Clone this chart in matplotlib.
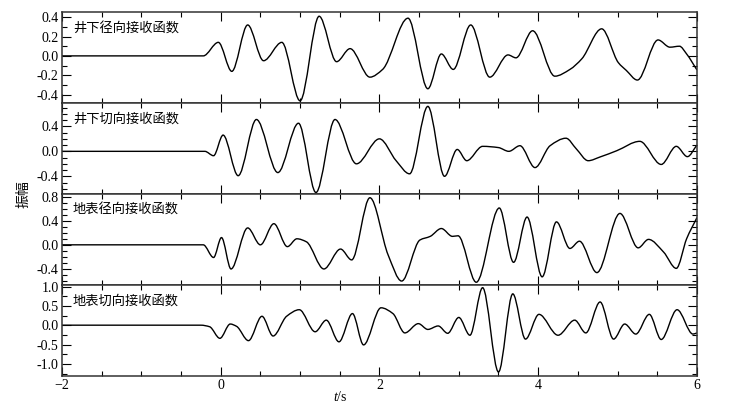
import numpy as np
import matplotlib
matplotlib.use('Agg')
from matplotlib import pyplot as plt
from matplotlib.path import Path
from matplotlib.patches import PathPatch
from matplotlib.ticker import MultipleLocator

plt.rcParams['font.family'] = ['Liberation Serif', 'DejaVu Serif']
plt.rcParams['mathtext.fontset'] = 'custom'
plt.rcParams['mathtext.it'] = 'Liberation Serif:italic'
plt.rcParams['mathtext.rm'] = 'Liberation Serif'

# picos e vales (tempo em s, amplitude)
t_rad_poco = [-2.0, -0.22, -0.03, 0.14, 0.34, 0.54, 0.77, 1.00, 1.24, 1.46, 1.63, 1.88, 2.04,
              2.36, 2.61, 2.78, 2.93, 3.15, 3.39, 3.62, 3.72, 3.93, 4.21, 4.40, 4.55, 4.80,
              5.01, 5.11, 5.25, 5.51, 5.66, 5.78, 5.87, 6.00]
a_rad_poco = [0.0, 0.0, 0.14, -0.16, 0.32, -0.05, 0.14, -0.465, 0.41, -0.06, 0.075, -0.22, -0.14,
              0.39, -0.34, 0.02, -0.14, 0.32, -0.22, 0.01, -0.02, 0.26, -0.21, -0.14, -0.03, 0.28,
              -0.07, -0.15, -0.25, 0.165, 0.09, 0.10, 0.02, -0.145]

t_tan_poco = [-2.0, -0.2, -0.09, 0.03, 0.22, 0.45, 0.72, 0.98, 1.20, 1.44, 1.71, 2.00, 2.21,
              2.38, 2.61, 2.82, 2.98, 3.10, 3.30, 3.50, 3.63, 3.77, 3.96, 4.15, 4.35, 4.48,
              4.63, 4.78, 4.99, 5.28, 5.55, 5.74, 5.88, 6.00]
a_tan_poco = [0.0, 0.0, -0.07, 0.26, -0.39, 0.51, -0.34, 0.45, -0.66, 0.51, -0.20, 0.20, -0.15,
              -0.36, 0.72, -0.40, 0.03, -0.15, 0.08, 0.06, 0.00, 0.09, -0.26, 0.09, 0.21, 0.04,
              -0.15, -0.09, 0.01, 0.16, -0.21, 0.08, -0.085, 0.10]

t_rad_sup = [-2.0, -0.22, -0.09, 0.01, 0.13, 0.34, 0.50, 0.67, 0.84, 0.96, 1.08, 1.30, 1.51,
             1.65, 1.88, 2.11, 2.28, 2.51, 2.64, 2.78, 2.92, 2.99, 3.22, 3.51, 3.69, 3.86,
             4.05, 4.23, 4.40, 4.52, 4.74, 5.03, 5.26, 5.39, 5.58, 5.74, 5.87, 6.00]
a_rad_sup = [0.0, 0.0, -0.21, 0.12, -0.40, 0.28, 0.00, 0.35, -0.03, 0.10, 0.05, -0.40, -0.07,
             -0.25, 0.78, -0.17, -0.60, 0.08, 0.14, 0.27, 0.14, 0.15, -0.62, 0.61, -0.29, 0.46,
             -0.53, 0.38, -0.06, 0.06, -0.46, 0.52, -0.05, 0.09, -0.12, -0.39, 0.10, 0.45]

t_tan_sup = [-2.0, -0.25, -0.14, -0.01, 0.12, 0.20, 0.35, 0.52, 0.66, 0.83, 0.99, 1.19, 1.33,
             1.49, 1.66, 1.80, 2.02, 2.17, 2.32, 2.49, 2.61, 2.74, 2.86, 3.00, 3.14, 3.30,
             3.50, 3.68, 3.84, 4.01, 4.25, 4.46, 4.60, 4.78, 4.95, 5.09, 5.23, 5.40, 5.55,
             5.75, 5.95, 6.00]
a_tan_sup = [0.0, 0.0, -0.04, -0.34, 0.03, -0.03, -0.40, 0.23, -0.28, 0.23, 0.40, -0.17, 0.13,
             -0.43, 0.30, -0.51, 0.45, 0.30, -0.20, 0.04, -0.11, -0.02, -0.21, 0.20, -0.26, 0.97,
             -1.21, 0.81, -0.36, 0.28, -0.26, 0.13, -0.20, 0.60, -0.36, 0.03, -0.23, 0.28, -0.37,
             0.40, -0.23, -0.20]

titulos = ['井下径向接收函数', '井下切向接收函数', '地表径向接收函数', '地表切向接收函数']
ylims = [(-0.49, 0.45), (-0.685, 0.77), (-0.665, 0.84), (-1.31, 1.04)]
ymaior = [0.2, 0.4, 0.4, 0.5]
ymenor = [0.1, 0.1, 0.1, 0.25]


def CurvaSuave(t, v):
    # curva de Bezier passando pelos pontos lidos (tangentes monotonicas)
    t = np.asarray(t, float)
    v = np.asarray(v, float)
    h = np.diff(t)
    d = np.diff(v) / h
    m = np.zeros_like(v)
    for i in range(1, len(v) - 1):
        if d[i - 1] * d[i] > 0:
            w1 = 2 * h[i] + h[i - 1]
            w2 = h[i] + 2 * h[i - 1]
            m[i] = (w1 + w2) / (w1 / d[i - 1] + w2 / d[i])
    m[-1] = d[-1]
    verts = [(t[0], v[0])]
    codes = [Path.MOVETO]
    for i in range(len(t) - 1):
        verts += [(t[i] + h[i] / 3, v[i] + m[i] * h[i] / 3),
                  (t[i + 1] - h[i] / 3, v[i + 1] - m[i + 1] * h[i] / 3),
                  (t[i + 1], v[i + 1])]
        codes += [Path.CURVE4] * 3
    return Path(verts, codes)


fig, axs = plt.subplots(4, 1, sharex=True, figsize=(7.29, 4.13), dpi=100)
fig.subplots_adjust(left=0.085, right=0.956, top=0.97, bottom=0.09, hspace=0)

series = [(t_rad_poco, a_rad_poco), (t_tan_poco, a_tan_poco),
          (t_rad_sup, a_rad_sup), (t_tan_sup, a_tan_sup)]

for i, ax in enumerate(axs):
    t, a = series[i]
    ax.add_patch(PathPatch(CurvaSuave(t, a), fill=False, lw=1.0, edgecolor='black'))
    ax.set_xlim(-2, 6)
    ax.set_ylim(*ylims[i])
    ax.xaxis.set_major_locator(MultipleLocator(2))
    ax.xaxis.set_minor_locator(MultipleLocator(0.5))
    ax.yaxis.set_major_locator(MultipleLocator(ymaior[i]))
    ax.yaxis.set_minor_locator(MultipleLocator(ymenor[i]))
    ax.yaxis.set_major_formatter(plt.FormatStrFormatter('%.1f'))
    ax.tick_params(which='both', direction='in', top=True, right=True, labelsize=10,
                   width=0.8, pad=2.5)
    ax.tick_params(which='major', length=6.5)
    ax.tick_params(which='minor', length=3.5)
    for s in ax.spines.values():
        s.set_linewidth(1.1)
        s.set_color('#333333')
    ax.text(0.017, 0.82, titulos[i], transform=ax.transAxes, fontsize=9.5,
            family=['Noto Sans CJK SC', 'DejaVu Sans'], va='center', ha='left')

fig.text(340 / 729, 1 - 397 / 413, '$t$/s', fontsize=10, ha='center', va='center')
fig.text(23 / 729, 1 - 194 / 413, '振幅', fontsize=10, rotation=90, ha='center', va='center',
         family=['Noto Sans CJK SC', 'DejaVu Sans'])

plt.savefig('out.png', dpi=100)
